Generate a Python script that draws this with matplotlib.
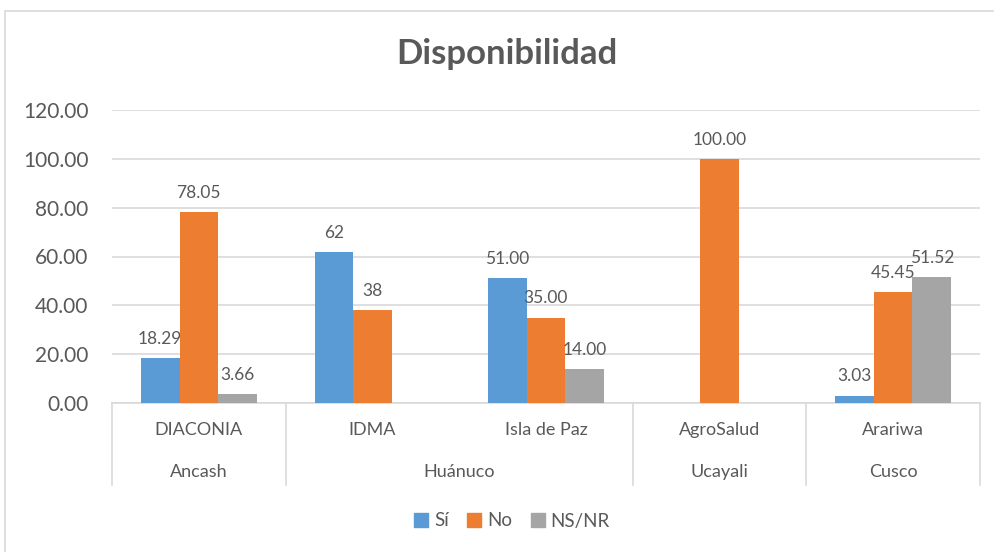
import numpy as np
import matplotlib
matplotlib.use("Agg")
import matplotlib.pyplot as plt
from matplotlib.patches import Rectangle, Patch
from matplotlib.transforms import blended_transform_factory

plt.rcParams['font.family'] = ['Lato', 'DejaVu Sans']

# data
orgs = ["DIACONIA", "IDMA", "Isla de Paz", "AgroSalud", "Arariwa"]
regions = ["Ancash", "Huánuco", "Ucayali", "Cusco"]
region_span = [1, 2, 1, 1]   # number of orgs per region
series = ["Sí", "No", "NS/NR"]
si = [18.29, 62, 51.00, np.nan, 3.03]
no = [78.05, 38, 35.00, 100.00, 45.45]
nsnr = [3.66, np.nan, 14.00, np.nan, 51.52]
si_lbl = ["18.29", "62", "51.00", "", "3.03"]
no_lbl = ["78.05", "38", "35.00", "100.00", "45.45"]
nsnr_lbl = ["3.66", "", "14.00", "", "51.52"]

colors = ["#5B9BD5", "#ED7D31", "#A5A5A5"]
txt = "#595959"
grid = "#D9D9D9"

W, H = 995, 552
fig = plt.figure(figsize=(W / 100, H / 100), dpi=100)

# chart border
fig.patches.append(Rectangle((5 / W, -0.1), 1.2, (H - 11) / H + 0.1,
                             transform=fig.transFigure, fill=False,
                             edgecolor=grid, lw=1.2))

ax = fig.add_axes([112 / W, (H - 403) / H, (980 - 112) / W, (403 - 110) / H])

x = np.arange(len(orgs))
bw = 1 / 4.5
for i, (vals, lbls) in enumerate(zip([si, no, nsnr], [si_lbl, no_lbl, nsnr_lbl])):
    pos = x + (i - 1) * bw
    ax.bar(pos, vals, bw, color=colors[i], label=series[i], zorder=3)
    for p, v, l in zip(pos, vals, lbls):
        if l:
            ax.annotate(l, (p, v), xytext=(0, 8), textcoords="offset points",
                        ha="center", va="bottom", fontsize=12.5, color=txt)

ax.set_xlim(-0.5, len(orgs) - 0.5)
ax.set_ylim(0, 120)
ax.set_yticks(np.arange(0, 121, 20))
ax.set_yticklabels([f"{v:.2f}" for v in np.arange(0, 121, 20)])
ax.yaxis.grid(True, color=grid, lw=1.2, zorder=0)
ax.tick_params(axis="y", length=0, labelsize=15, labelcolor=txt, pad=17)
ax.set_xticks([])
for s in ["top", "right", "left"]:
    ax.spines[s].set_visible(False)
ax.spines["bottom"].set_color(grid)
ax.spines["bottom"].set_linewidth(1.2)

# two-level category axis
tr = blended_transform_factory(ax.transData, ax.transAxes)
px = 1 / (403 - 110)
for i, o in enumerate(orgs):
    ax.text(i, -27 * px, o, transform=tr, ha="center", va="center",
            fontsize=13, color=txt)
start = 0
bounds = [-0.5]
for r, n in zip(regions, region_span):
    ax.text(start + (n - 1) / 2, -69 * px, r, transform=tr, ha="center",
            va="center", fontsize=13, color=txt)
    start += n
    bounds.append(start - 0.5)
for b in bounds:
    ax.plot([b, b], [0, -82 * px], transform=tr, color=grid, lw=1.2,
            clip_on=False)

fig.text(507 / W, 1 - 54 / H, "Disponibilidad", ha="center", va="center",
         fontsize=25, fontweight="bold", color=txt)

handles = [Patch(color=c, label=s) for c, s in zip(colors, series)]
fig.legend(handles=handles, loc="center", bbox_to_anchor=(512 / W, 1 - 521 / H),
           ncol=3, frameon=False, fontsize=13.5, labelcolor=txt,
           handlelength=0.75, handleheight=0.75, handletextpad=0.3,
           columnspacing=1.0)

fig.savefig("out.png", dpi=100)
